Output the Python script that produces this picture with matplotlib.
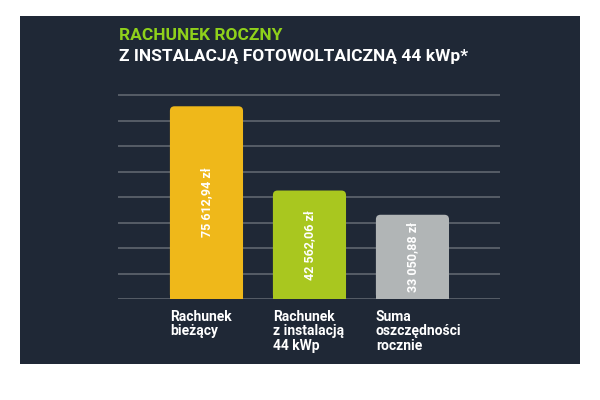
import matplotlib
matplotlib.use('Agg')
import matplotlib.pyplot as plt
from matplotlib.patches import FancyBboxPatch, Rectangle

# data
categories = ['Rachunek\nbieżący', 'Rachunek\nz instalacją\n44 kWp', 'Suma\noszczędności\nrocznie']
values = [75612.94, 42562.06, 33050.88]
value_labels = ['75 612,94 zł', '42 562,06 zł', '33 050,88 zł']
bar_colors = ['#efb81a', '#a9c71f', '#b1b5b6']
title_1 = 'RACHUNEK ROCZNY'
title_2 = 'Z INSTALACJĄ FOTOWOLTAICZNĄ 44 kWp*'
grid_ticks = [10000, 20000, 30000, 40000, 50000, 60000, 70000, 80000]

bg = '#1f2836'
plt.rcParams['font.family'] = ['Roboto', 'DejaVu Sans']

fig = plt.figure(figsize=(6, 4), dpi=100)
fig.patch.set_facecolor('white')
# dark panel
fig.patches.append(Rectangle((20/600, 1-364/400), 560/600, (364-16)/400,
                             transform=fig.transFigure, facecolor=bg,
                             edgecolor='none', zorder=-1))

ax = fig.add_axes([118/600, 1-299/400, 382/600, 209/400])
ax.set_zorder(1)
ax.set_facecolor('none')
ax.set_xlim(-0.859, 2.85)
ax.set_ylim(0, 82000)
for s in ax.spines.values():
    s.set_visible(False)
ax.set_xticks([])
ax.set_yticks(grid_ticks)
ax.tick_params(left=False, labelleft=False)
ax.grid(axis='y', color='#5a616b', linewidth=1.3)
ax.axhline(0, color='#5a616b', linewidth=1.3, zorder=1)
ax.set_axisbelow(True)

width = 0.71
round_x = 0.045
aspect = 40400  # y data units per x data unit, for round corners
bars = ax.bar(range(len(values)), values, width=width, color=bar_colors, zorder=2)
# swap in rounded tops
for b, c in zip(bars, bar_colors):
    b.set_visible(False)
    p = FancyBboxPatch((b.get_x(), b.get_y()), b.get_width(), b.get_height(),
                       boxstyle='round,pad=0,rounding_size=%g' % round_x,
                       mutation_aspect=aspect,
                       facecolor=c, edgecolor='none', zorder=2)
    ax.add_patch(p)
    # square off the bottom corners
    ax.add_patch(Rectangle((b.get_x(), 0), b.get_width(), b.get_height() / 2,
                           facecolor=c, edgecolor='none', zorder=2))

for i, (v, lab) in enumerate(zip(values, value_labels)):
    ax.text(i, v / 2, lab, rotation=90, ha='center', va='center',
            color='white', fontsize=9, fontweight='bold', zorder=3)
    ax.text(i - width / 2, -4200, categories[i], ha='left', va='top',
            color='white', fontsize=10, fontweight='bold', linespacing=1.05)

fig.text(119/600, 1-36/400, title_1, color='#8fd11b', fontsize=12.5,
         fontweight='bold', va='center', ha='left')
fig.text(119/600, 1-56/400, title_2, color='white', fontsize=12.5,
         fontweight='bold', va='center', ha='left')

fig.savefig('out.png', dpi=100, facecolor='white')
